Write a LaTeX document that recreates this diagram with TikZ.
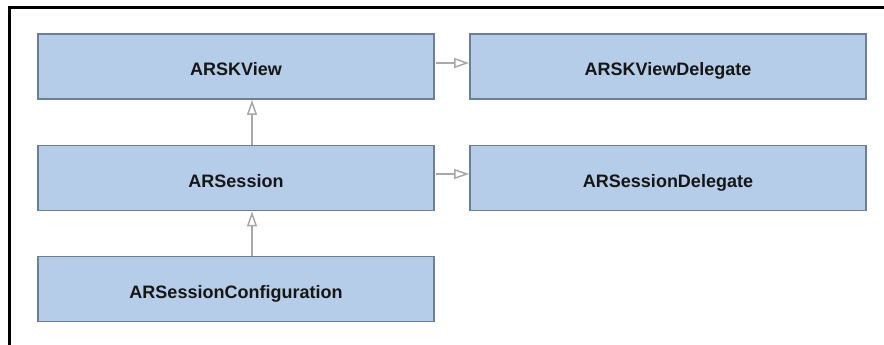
\documentclass[tikz,border=0pt]{standalone}
\usepackage{fontspec}
\setmainfont{Liberation Sans}
\usetikzlibrary{arrows.meta}
\definecolor{boxfill}{RGB}{181,205,232}
\definecolor{boxline}{RGB}{112,126,148}
\definecolor{arrowgray}{RGB}{168,168,168}
\definecolor{txt}{RGB}{22,22,22}
\tikzset{
  cls/.style={draw=boxline, fill=boxfill, line width=1.8pt, minimum width=396pt, minimum height=65pt,
    inner sep=0pt, text height=18pt, text depth=0pt, text=txt,
    font=\fontsize{18}{20}\selectfont\bfseries},
  rel/.style={draw=arrowgray, line width=2pt, -{Triangle[open, length=15pt, width=10pt, line width=1.5pt]}}
}
\begin{document}
\begin{tikzpicture}[x=1pt,y=-1pt]
\useasboundingbox (0,0) rectangle (884,345);
\fill[white] (0,0) rectangle (884,345);
\draw[line width=2.6pt, line cap=rect] (9.5,7.5) -- (884,7.5);
\draw[line width=2.6pt] (9.5,7.5) -- (9.5,345);
\node[cls] (view) at (236,66.5) {ARSKView};
\node[cls] (viewdel) at (668,66.5) {ARSKViewDelegate};
\node[cls] (sess) at (236,178) {ARSession};
\node[cls] (sessdel) at (668,178) {ARSessionDelegate};
\node[cls] (conf) at (236,289) {ARSessionConfiguration};
\draw[rel] ([xshift=1pt,yshift=3.5pt]view.east) -- ([yshift=3.5pt]viewdel.west);
\draw[rel] ([xshift=1pt,yshift=4pt]sess.east) -- ([yshift=4pt]sessdel.west);
\draw[rel] ([xshift=16pt]sess.north) -- ([xshift=16pt]view.south);
\draw[rel] ([xshift=16pt]conf.north) -- ([xshift=16pt]sess.south);
\end{tikzpicture}
\end{document}
